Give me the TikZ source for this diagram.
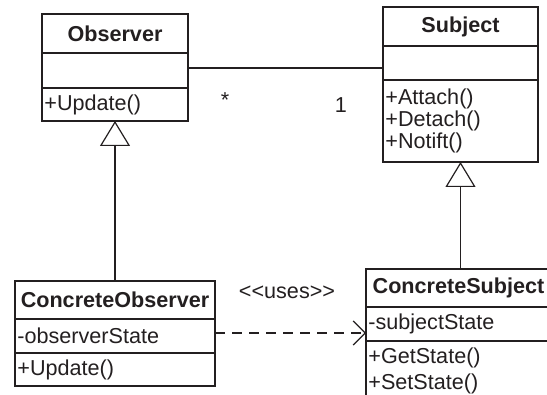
\documentclass[tikz,border=0pt]{standalone}
\usepackage{fontspec}
\setmainfont{Liberation Sans}
\usepackage{tikz}
\usetikzlibrary{arrows.meta, positioning}
\definecolor{umlink}{HTML}{231F20}
\tikzset{
  clshead/.style={draw=umlink, line width=0.9pt, outer sep=0pt, inner sep=0pt, align=center,
    font=\fontsize{10.8}{10.8}\selectfont\bfseries, text=umlink},
  clspart/.style={draw=umlink, line width=0.9pt, outer sep=0pt, inner xsep=1.2pt, inner ysep=0pt,
    text width=#1, align=left, font=\fontsize{10.8}{10.8}\selectfont, text=umlink},
  umltext/.style={inner sep=0pt, font=\fontsize{10.8}{10.8}\selectfont, text=umlink},
  assoc/.style={draw=umlink, line width=0.6pt},
  inherits/.style={-{Triangle[open, length=12.5pt, width=15pt]}, draw=umlink, line width=0.6pt},
  uses/.style={-{Straight Barb[length=6pt, width=12pt]}, draw=umlink, line width=0.6pt,
    dash pattern=on 5pt off 3.5pt}
}
\begin{document}
\begin{tikzpicture}[x=0.5pt, y=-0.5pt]
\useasboundingbox (0,0) rectangle (547,395);
\clip (0,0) rectangle (547,395);
\node[clshead, minimum width=73pt, minimum height=19.5pt] (obs) at (115,33.5) {Observer};
\node[clspart=70.6pt, minimum height=17.5pt, below=0pt of obs] (obsattr) {};
\node[clspart=70.6pt, minimum height=16.5pt, below=0pt of obsattr] (obsops) {+Update()};
\node[clshead, minimum width=77.5pt, minimum height=19.5pt] (subj) at (460.5,26.5) {Subject};
\node[clspart=75.1pt, minimum height=17pt, below=0pt of subj] (subjattr) {};
\node[clspart=75.1pt, minimum height=41pt, below=0pt of subjattr] (subjops) {+Attach()\\+Detach()\\+Notift()};
\node[clshead, minimum width=100pt, minimum height=19pt] (cobs) at (115,300) {ConcreteObserver};
\node[clspart=97.6pt, minimum height=17pt, below=0pt of cobs] (cobsattr) {-observerState};
\node[clspart=97.6pt, minimum height=16.5pt, below=0pt of cobsattr] (cobsops) {+Update()};
\node[clshead, minimum width=92.5pt, minimum height=19pt] (csub) at (458.5,288) {ConcreteSubject};
\node[clspart=90.1pt, minimum height=17pt, below=0pt of csub] (csubattr) {-subjectState};
\node[clspart=90.1pt, minimum height=30pt, below=0pt of csubattr] (csubops) {+GetState()\\[2.2pt]+SetState()};
\draw[assoc] ([yshift=1.2pt]obsattr.east) -- ([yshift=1.2pt]obsattr.east -| subjattr.west);
\node[umltext] (mstar) at (225,100) {*};
\node[umltext] (mone) at (341,105) {1};
\draw[inherits] (cobs) -- (obsops);
\draw[inherits] (csub.north -| subjops.south) -- (subjops);
\draw[uses] ([yshift=1.5pt]cobsattr.east) -- ([yshift=1.5pt]cobsattr.east -| csubattr.west);
\node[umltext] (useslbl) at (287,292) {<{}<uses>{}>};
\end{tikzpicture}
\end{document}
